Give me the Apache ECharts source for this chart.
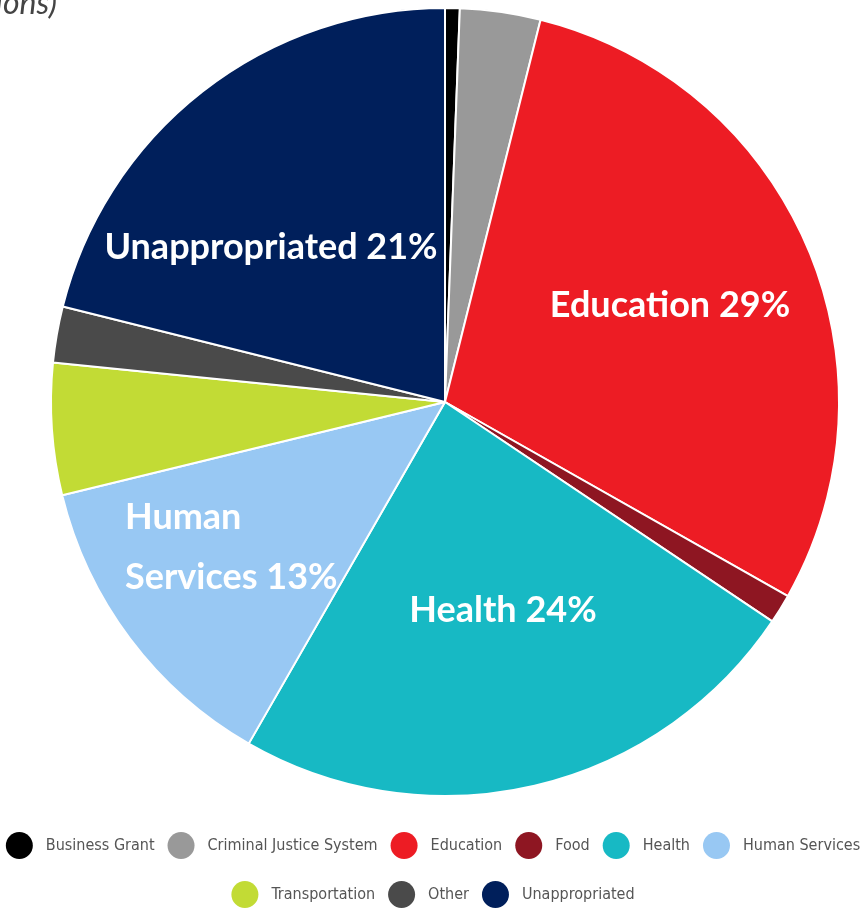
<!DOCTYPE html>
<html>
<head>
<meta charset="utf-8">
<script src="https://cdn.jsdelivr.net/npm/echarts@6/dist/echarts.min.js"></script>
<style>
html,body{margin:0;padding:0;background:#fff;}
#chart{width:866px;height:908px;}
</style>
</head>
<body>
<div id="chart"></div>
<script>
// ---- data ----
const categories = ["Business Grant","Criminal Justice System","Education","Food","Health","Human Services","Transportation","Other","Unappropriated"];
const shares = [0.6, 3.3, 29.3, 1.2, 23.9, 12.9, 5.4, 2.3, 21.1];
const sliceLabels = ["", "", "Education", "", "Health", "Human\nServices", "", "", "Unappropriated"];
const titleText = "(in millions)";

// ---- styles ----
const colors = ["#000000","#999999","#ED1C24","#8E1622","#17B9C4","#98C8F3","#C2DB35","#4A4A4A","#001F5B"];
const labelPlace = {
  2: {x: 670, y: 305, align: "center"},
  4: {x: 503, y: 610, align: "center"},
  5: {x: 125, y: 547, align: "left"},
  8: {x: 271, y: 247, align: "center"}
};

const chart = echarts.init(document.getElementById('chart'));
const legendText = {color: "#555", fontFamily: "DejaVu Sans Condensed, Liberation Sans Narrow, sans-serif", fontSize: 16, padding: [0,0,0,8]};
const legendBase = {
  icon: "circle", itemWidth: 27, itemHeight: 27, itemGap: 13, left: "center", width: 866, padding: 0,
  itemStyle: {borderWidth: 0},
  textStyle: legendText, selectedMode: false
};
chart.setOption({
  animation: false,
  color: colors,
  graphic: [{
    type: "text", x: 57, y: -12,
    style: {text: titleText, textAlign: "right", textVerticalAlign: "top", font: "italic 32px Lato, sans-serif", fill: "#444"}
  }],
  legend: [
    Object.assign({}, legendBase, {top: 832, data: categories.slice(0, 6)}),
    Object.assign({}, legendBase, {top: 881, data: categories.slice(6)})
  ],
  series: [{
    type: "pie",
    center: [445, 402],
    radius: [0, 394],
    startAngle: 90,
    clockwise: true,
    avoidLabelOverlap: false,
    itemStyle: {borderColor: "#fff", borderWidth: 2},
    label: {
      show: true, position: "inside",
      color: "#fff", fontFamily: "Lato, sans-serif", fontWeight: "bold", fontSize: 36, lineHeight: 60,
      formatter: p => sliceLabels[p.dataIndex] ? sliceLabels[p.dataIndex] + " " + Math.round(p.value) + "%" : ""
    },
    labelLine: {show: false},
    labelLayout: function (p) {
      const pl = labelPlace[p.dataIndex];
      if (!pl) return {};
      return {x: pl.x, y: pl.y, align: pl.align, verticalAlign: "middle"};
    },
    emphasis: {disabled: true},
    data: categories.map((c, i) => ({name: c, value: shares[i]}))
  }]
});
</script>
</body>
</html>
